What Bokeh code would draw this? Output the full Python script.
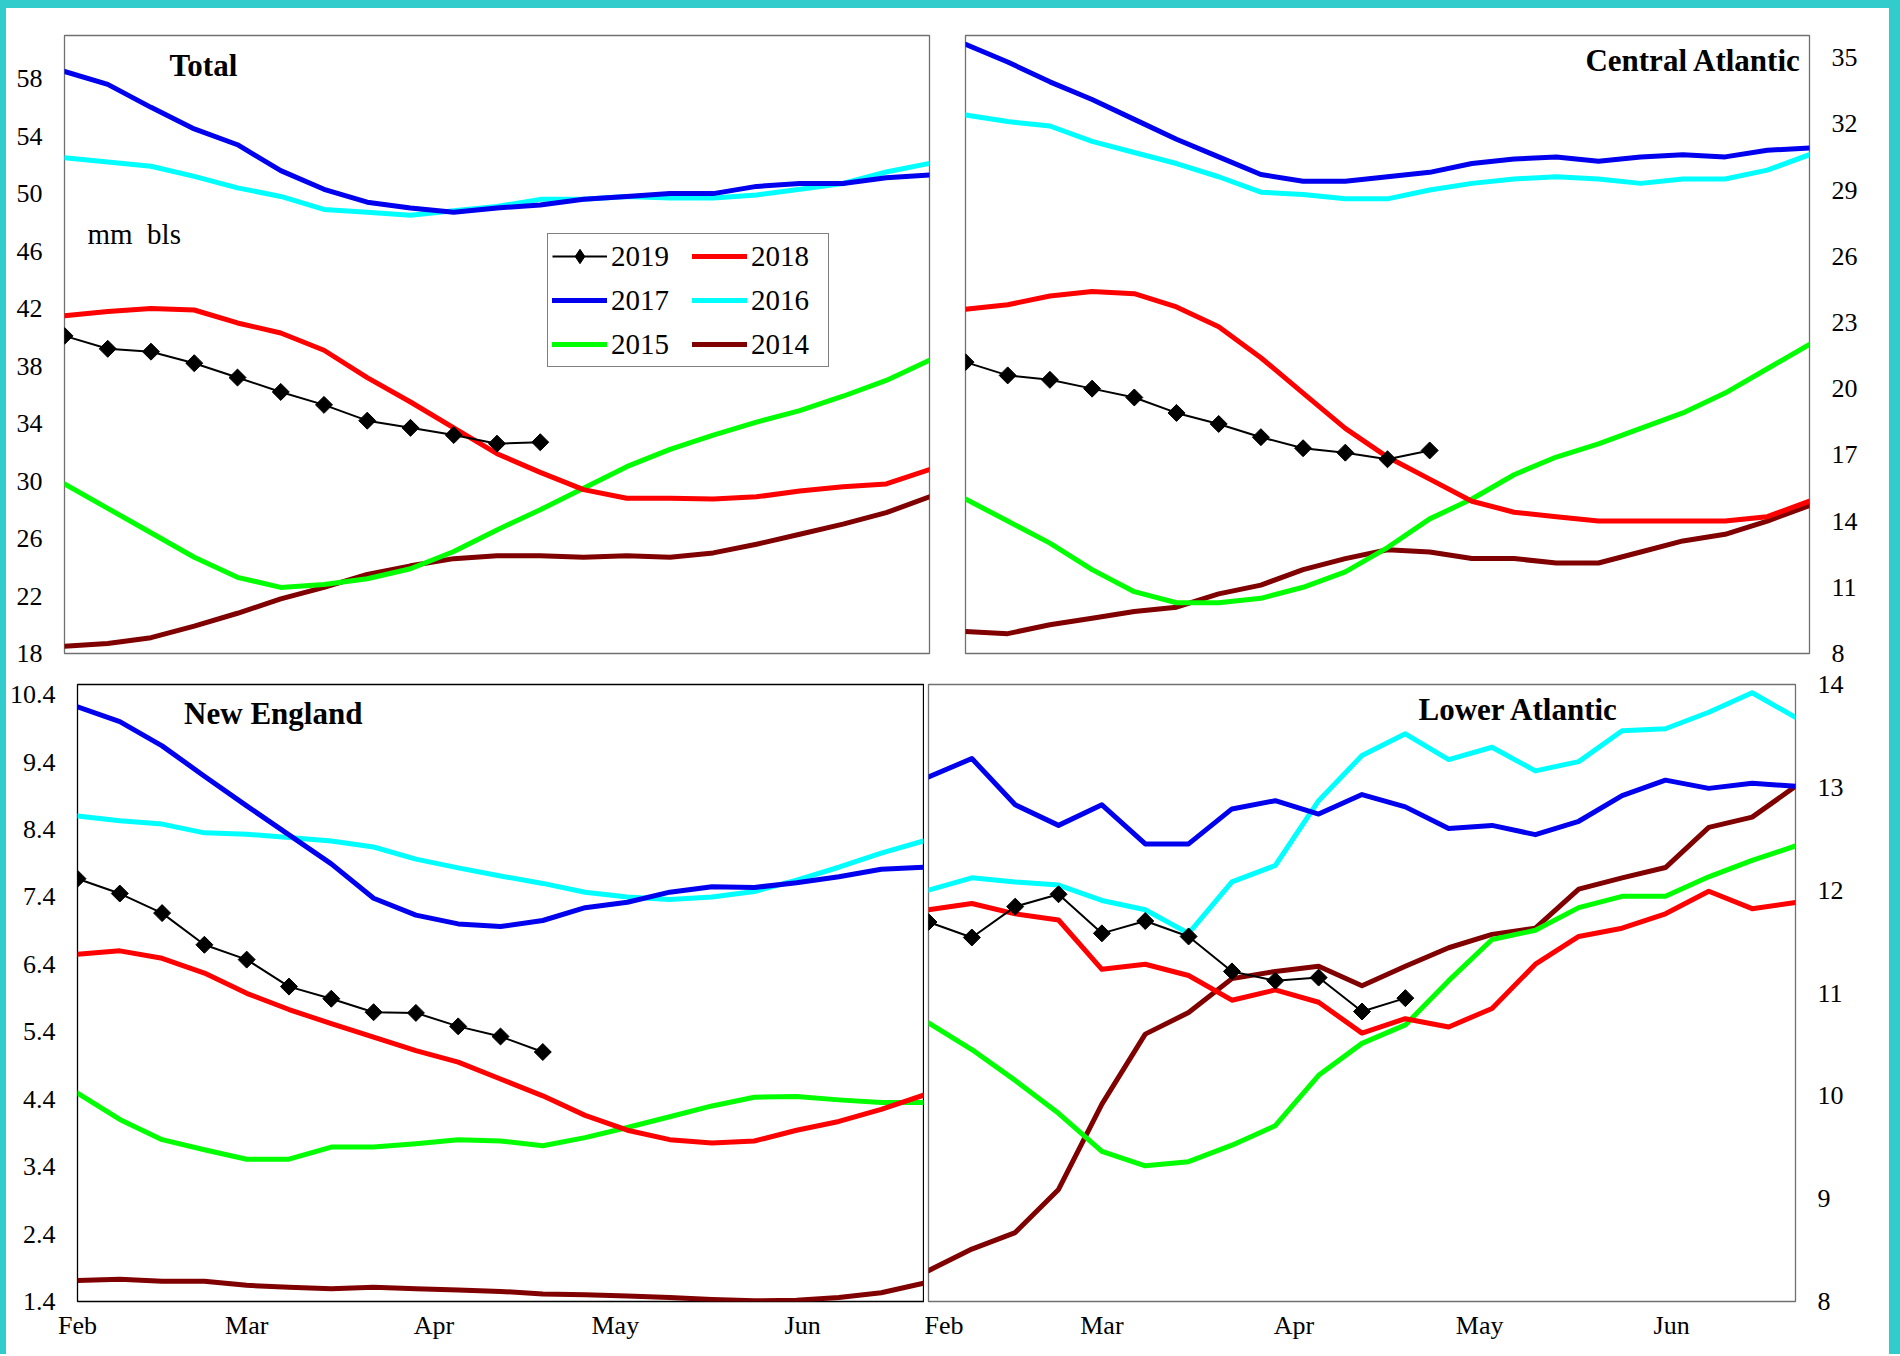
import math
from bokeh.plotting import figure
from bokeh.models import Range1d, FixedTicker, Label, Legend, LegendItem, Spacer
from bokeh.layouts import row, column
from bokeh.embed import file_html
from bokeh.resources import INLINE

# ---------------- data ----------------
days = [0, 7, 14, 21, 28, 35, 42, 49, 56, 63, 70, 77, 84, 91, 98, 105, 112, 119, 126, 133, 140]
month_ticks = [0, 28, 59, 89, 120]
month_labels = ["Feb", "Mar", "Apr", "May", "Jun"]
years = ["2019", "2018", "2017", "2016", "2015", "2014"]

total_2019 = [40.1, 39.2, 39.0, 38.2, 37.2, 36.2, 35.3, 34.2, 33.7, 33.2, 32.6, 32.7]
total_2018 = [41.5, 41.8, 42.0, 41.9, 41.0, 40.3, 39.1, 37.2, 35.5, 33.7, 31.9, 30.6, 29.4, 28.8, 28.8, 28.75, 28.9, 29.3, 29.6, 29.8, 30.8]
total_2017 = [58.5, 57.6, 56.0, 54.5, 53.4, 51.6, 50.3, 49.4, 49.0, 48.7, 49.0, 49.2, 49.6, 49.8, 50.0, 50.0, 50.5, 50.7, 50.7, 51.1, 51.3]
total_2016 = [52.5, 52.2, 51.9, 51.2, 50.4, 49.8, 48.9, 48.7, 48.5, 48.8, 49.1, 49.6, 49.6, 49.8, 49.7, 49.7, 49.9, 50.3, 50.7, 51.5, 52.1]
total_2015 = [29.8, 28.1, 26.4, 24.7, 23.3, 22.6, 22.8, 23.2, 23.9, 25.1, 26.6, 28.0, 29.5, 31.0, 32.2, 33.2, 34.1, 34.9, 35.9, 37.0, 38.4]
total_2014 = [18.5, 18.7, 19.1, 19.9, 20.8, 21.8, 22.6, 23.5, 24.1, 24.6, 24.8, 24.8, 24.7, 24.8, 24.7, 25.0, 25.6, 26.3, 27.0, 27.8, 28.9]

central_2019 = [21.2, 20.6, 20.4, 20.0, 19.6, 18.9, 18.4, 17.8, 17.3, 17.1, 16.8, 17.2]
central_2018 = [23.6, 23.8, 24.2, 24.4, 24.3, 23.7, 22.8, 21.4, 19.8, 18.2, 16.9, 15.9, 14.9, 14.4, 14.2, 14.0, 14.0, 14.0, 14.0, 14.2, 14.9]
central_2017 = [35.6, 34.8, 33.9, 33.1, 32.2, 31.3, 30.5, 29.7, 29.4, 29.4, 29.6, 29.8, 30.2, 30.4, 30.5, 30.3, 30.5, 30.6, 30.5, 30.8, 30.9]
central_2016 = [32.4, 32.1, 31.9, 31.2, 30.7, 30.2, 29.6, 28.9, 28.8, 28.6, 28.6, 29.0, 29.3, 29.5, 29.6, 29.5, 29.3, 29.5, 29.5, 29.9, 30.6]
central_2015 = [15.0, 14.0, 13.0, 11.8, 10.8, 10.3, 10.3, 10.5, 11.0, 11.7, 12.8, 14.1, 15.0, 16.1, 16.9, 17.5, 18.2, 18.9, 19.8, 20.9, 22.0]
central_2014 = [9.0, 8.9, 9.3, 9.6, 9.9, 10.1, 10.7, 11.1, 11.8, 12.3, 12.7, 12.6, 12.3, 12.3, 12.1, 12.1, 12.6, 13.1, 13.4, 14.0, 14.7]

ne_2019 = [7.67, 7.45, 7.16, 6.69, 6.47, 6.07, 5.89, 5.69, 5.68, 5.48, 5.33, 5.10]
ne_2018 = [6.55, 6.60, 6.49, 6.27, 5.97, 5.73, 5.52, 5.32, 5.12, 4.95, 4.70, 4.45, 4.16, 3.94, 3.80, 3.75, 3.78, 3.94, 4.07, 4.25, 4.46]
ne_2017 = [10.22, 10.00, 9.64, 9.19, 8.75, 8.32, 7.89, 7.38, 7.13, 7.00, 6.96, 7.05, 7.24, 7.32, 7.47, 7.55, 7.54, 7.61, 7.70, 7.81, 7.84]
ne_2016 = [8.60, 8.53, 8.48, 8.35, 8.33, 8.28, 8.23, 8.14, 7.96, 7.83, 7.71, 7.60, 7.47, 7.40, 7.36, 7.40, 7.48, 7.65, 7.84, 8.05, 8.23]
ne_2015 = [4.49, 4.10, 3.80, 3.65, 3.51, 3.51, 3.69, 3.69, 3.74, 3.80, 3.78, 3.71, 3.83, 3.98, 4.14, 4.30, 4.43, 4.44, 4.39, 4.35, 4.35]
ne_2014 = [1.71, 1.73, 1.70, 1.70, 1.64, 1.61, 1.59, 1.61, 1.59, 1.57, 1.55, 1.51, 1.50, 1.48, 1.46, 1.43, 1.41, 1.42, 1.46, 1.53, 1.67]

lower_2019 = [11.69, 11.54, 11.84, 11.96, 11.58, 11.70, 11.55, 11.21, 11.12, 11.15, 10.82, 10.95]
lower_2018 = [11.81, 11.87, 11.77, 11.71, 11.23, 11.28, 11.17, 10.93, 11.03, 10.91, 10.61, 10.75, 10.67, 10.85, 11.28, 11.55, 11.63, 11.77, 11.99, 11.82, 11.88]
lower_2017 = [13.10, 13.28, 12.83, 12.63, 12.83, 12.45, 12.45, 12.79, 12.87, 12.74, 12.93, 12.81, 12.60, 12.63, 12.54, 12.67, 12.92, 13.07, 12.99, 13.04, 13.01]
lower_2016 = [12.00, 12.12, 12.08, 12.05, 11.90, 11.81, 11.58, 12.08, 12.24, 12.87, 13.31, 13.52, 13.27, 13.39, 13.16, 13.25, 13.55, 13.57, 13.73, 13.92, 13.68]
lower_2015 = [10.71, 10.45, 10.15, 9.83, 9.46, 9.32, 9.36, 9.52, 9.71, 10.20, 10.51, 10.69, 11.12, 11.52, 11.61, 11.83, 11.94, 11.94, 12.13, 12.29, 12.43]
lower_2014 = [8.30, 8.51, 8.67, 9.09, 9.92, 10.60, 10.81, 11.14, 11.21, 11.26, 11.07, 11.26, 11.44, 11.57, 11.63, 12.01, 12.12, 12.22, 12.61, 12.71, 13.01]

total_ticks = [18, 22, 26, 30, 34, 38, 42, 46, 50, 54, 58]
central_ticks = [8, 11, 14, 17, 20, 23, 26, 29, 32, 35]
ne_ticks = [1.4, 2.4, 3.4, 4.4, 5.4, 6.4, 7.4, 8.4, 9.4, 10.4]
lower_ticks = [8, 9, 10, 11, 12, 13, 14]

# ---------------- styling ----------------
COLORS = {"2019": "black", "2018": "#FF0000", "2017": "#0000EE", "2016": "#00FFFF",
          "2015": "#00FF00", "2014": "#800000"}
SERIF = "Liberation Serif"
CYAN = "#33CCCC"


def style_axis(ax, standoff):
    ax.axis_line_color = None
    ax.major_tick_line_color = None
    ax.minor_tick_line_color = None
    ax.major_tick_out = 0
    ax.major_tick_in = 0
    ax.minor_tick_out = 0
    ax.minor_tick_in = 0
    ax.major_label_text_font = SERIF
    ax.major_label_text_font_size = "26px"
    ax.major_label_text_color = "black"
    ax.major_label_standoff = standoff


def make_panel(series, yrange, yticks, yside, canvas, frame, show_x, outline, title,
               title_px, title_align):
    cx0, cy0, cw, ch = canvas          # page coordinates of the canvas
    fl, fr, ft, fb = frame             # page coordinates of the frame
    p = figure(width=cw, height=ch, x_range=Range1d(0, 140), y_range=Range1d(*yrange),
               output_backend="svg", toolbar_location=None,
               x_axis_location="below" if show_x else None, y_axis_location=yside,
               min_border_left=fl - cx0, min_border_right=(cx0 + cw) - fr,
               min_border_top=ft - cy0, min_border_bottom=(cy0 + ch) - fb,
               border_fill_color="white", background_fill_color="white")
    p.outline_line_color = outline
    p.outline_line_width = 1.3
    p.xgrid.visible = False
    p.ygrid.visible = False
    for ax in p.yaxis:
        ax.ticker = FixedTicker(ticks=yticks)
        style_axis(ax, 22)
    if show_x:
        for ax in p.xaxis:
            ax.ticker = FixedTicker(ticks=month_ticks)
            ax.major_label_overrides = {t: l for t, l in zip(month_ticks, month_labels)}
            style_axis(ax, 9)

    renderers = {}
    for yr in ["2014", "2015", "2016", "2017", "2018"]:
        renderers[yr] = [p.line(days, series[yr], line_color=COLORS[yr], line_width=5,
                                line_join="round", line_cap="round")]
    d19 = days[:len(series["2019"])]
    l19 = p.line(d19, series["2019"], line_color="black", line_width=2)
    # diamond used as the legend swatch; hidden under the rotated squares in the plot
    key = p.scatter(d19, series["2019"], marker="diamond", size=15,
                    fill_color="black", line_color="black")
    p.scatter(d19, series["2019"], marker="square", angle=math.pi / 4, size=12,
              fill_color="black", line_color="black")
    renderers["2019"] = [l19, key]

    def to_data(px, py):
        x = (px - fl) / (fr - fl) * 140
        y = yrange[0] + (fb - py) / (fb - ft) * (yrange[1] - yrange[0])
        return x, y

    tx, ty = to_data(*title_px)
    p.add_layout(Label(x=tx, y=ty, text=title, text_font=SERIF, text_font_style="bold",
                       text_font_size="31px", text_color="black", text_align=title_align,
                       text_baseline="alphabetic"))
    return p, renderers, to_data


p_total, r_total, td_total = make_panel(
    {"2019": total_2019, "2018": total_2018, "2017": total_2017, "2016": total_2016,
     "2015": total_2015, "2014": total_2014},
    (18, 61), total_ticks, "left", (6, 8, 934, 662), (64, 929, 34, 657), False, "#707070",
    "Total", (169, 64), "left")
mx, my = td_total(87, 234)
p_total.add_layout(Label(x=mx, y=my, text="mm\u00a0 bls", text_font=SERIF, text_font_size="29px",
                         text_color="black", text_baseline="alphabetic"))

legend = Legend(
    items=[LegendItem(label=yr, renderers=r_total[yr]) for yr in years],
    location=(483, 286), orientation="horizontal", ncols=2,
    label_text_font=SERIF, label_text_font_size="29px", label_text_color="black",
    glyph_width=55, glyph_height=36, label_height=36, label_width=73, label_standoff=4,
    padding=4, spacing=8, margin=0,
    border_line_color="black", border_line_width=1,
    background_fill_color="white", background_fill_alpha=1.0)
p_total.add_layout(legend)

p_central, _, _ = make_panel(
    {"2019": central_2019, "2018": central_2018, "2017": central_2017, "2016": central_2016,
     "2015": central_2015, "2014": central_2014},
    (8, 36), central_ticks, "right", (940, 8, 949, 662), (965, 1809, 35, 653), False, "#707070",
    "Central Atlantic", (1801, 60), "right")

p_ne, _, _ = make_panel(
    {"2019": ne_2019, "2018": ne_2018, "2017": ne_2017, "2016": ne_2016,
     "2015": ne_2015, "2014": ne_2014},
    (1.4, 10.55), ne_ticks, "left", (6, 670, 918, 684), (74, 923, 684, 1301), True,
    "black", "New England", (181, 713), "left")

p_lower, _, _ = make_panel(
    {"2019": lower_2019, "2018": lower_2018, "2017": lower_2017, "2016": lower_2016,
     "2015": lower_2015, "2014": lower_2014},
    (8, 14), lower_ticks, "right", (924, 670, 965, 684), (928, 1795, 683, 1302), True,
    "#707070", "Lower Atlantic", (1418, 708), "left")

top_edge = Spacer(width=1900, height=8, styles={"background-color": CYAN})
left_edge = Spacer(width=6, height=1346, styles={"background-color": CYAN})
right_edge = Spacer(width=11, height=1346, styles={"background-color": CYAN})

panels = column(row(p_total, p_central), row(p_ne, p_lower))
layout = column(top_edge, row(left_edge, panels, right_edge))

open("out.html", "w").write(file_html(layout, INLINE))
